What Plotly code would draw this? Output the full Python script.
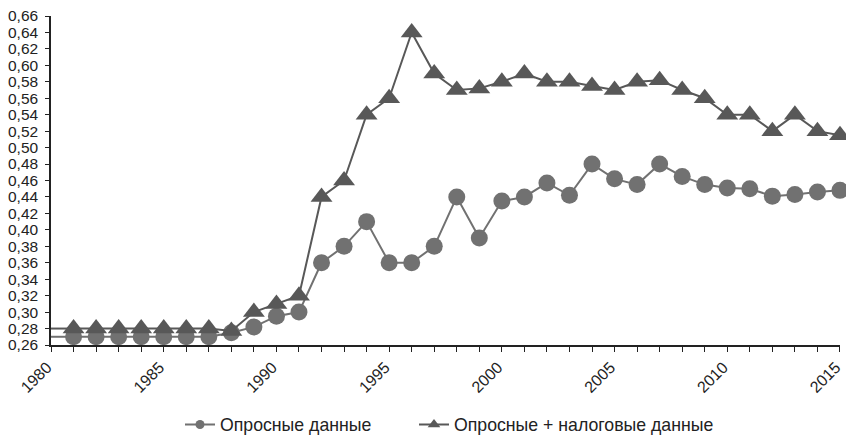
import plotly.graph_objects as go

years = list(range(1980, 2016))
survey = [0.27, 0.27, 0.27, 0.27, 0.27, 0.27, 0.27, 0.27, 0.275, 0.282, 0.295,
          0.30, 0.36, 0.38, 0.41, 0.36, 0.36, 0.38, 0.44, 0.39, 0.435,
          0.44, 0.457, 0.442, 0.48, 0.462, 0.455, 0.48, 0.465, 0.455, 0.451,
          0.45, 0.441, 0.443, 0.446, 0.448]
survey_tax = [0.28, 0.28, 0.28, 0.28, 0.28, 0.28, 0.28, 0.28, 0.277, 0.30, 0.31,
              0.32, 0.44, 0.46, 0.54, 0.56, 0.64, 0.59, 0.57, 0.572, 0.58,
              0.59, 0.58, 0.58, 0.575, 0.57, 0.58, 0.582, 0.57, 0.56, 0.54,
              0.54, 0.52, 0.54, 0.52, 0.515]
names = ["Опросные данные", "Опросные + налоговые данные"]

c_circ = "#717171"
c_tri = "#585858"

W, H = 846, 440

fig = go.Figure()
series = [(survey, c_circ, "circle", 17, 9), (survey_tax, c_tri, "triangle-up", 19, 11)]
legends = ["legend", "legend2"]
for i, (vals, col, sym, msize, lsize) in enumerate(series):
    # 1980 value: line only, no marker
    fig.add_trace(go.Scatter(
        x=years[:2], y=vals[:2], mode="lines", showlegend=False, hoverinfo="skip",
        line=dict(color=col, width=2), cliponaxis=False,
    ))
    fig.add_trace(go.Scatter(
        x=years[1:], y=vals[1:], name=names[i], mode="lines+markers", showlegend=False,
        line=dict(color=col, width=2),
        marker=dict(symbol=sym, size=msize, color=col, opacity=1),
        cliponaxis=False,
    ))
for i, (vals, col, sym, msize, lsize) in enumerate(series):
    # legend entry
    fig.add_trace(go.Scatter(
        x=[None], y=[None], name=names[i], mode="lines+markers", legend=legends[i],
        line=dict(color=col, width=2),
        marker=dict(symbol=sym, size=lsize, color=col),
    ))

leg_common = dict(orientation="h", xref="container", yref="container",
                  xanchor="left", yanchor="middle", y=1 - 425 / H,
                  font=dict(size=17.7), itemwidth=30, bgcolor="rgba(0,0,0,0)")

fig.update_layout(
    width=W, height=H,
    margin=dict(l=51, r=6, t=16, b=95),
    paper_bgcolor="white", plot_bgcolor="white",
    separators=", ",
    font=dict(family="Liberation Sans, Arial, sans-serif", size=15, color="#222"),
    showlegend=True,
    legend=dict(x=180 / W, **leg_common),
    legend2=dict(x=414 / W, **leg_common),
    xaxis=dict(range=[1979.999, 2015.001], tickmode="linear", tick0=1980, dtick=5,
               tickangle=-45, showgrid=False, zeroline=False, automargin=False,
               showline=True, linecolor="#222", linewidth=1.5,
               ticks="outside", ticklen=5, tickcolor="#222",
               tickfont=dict(size=16), ticklabeloverflow="allow", ticklabelshift=-4,
               minor=dict(dtick=1, ticks="outside", ticklen=5, tickcolor="#222", showgrid=False)),
    yaxis=dict(range=[0.26, 0.66], tickmode="linear", tick0=0.26, dtick=0.02,
               tickformat=".2f", showgrid=False, zeroline=False, automargin=False,
               showline=True, linecolor="#222", linewidth=1.5,
               ticks="outside", ticklen=4, tickcolor="#222",
               tickfont=dict(size=15.5), ticklabelstandoff=4, ticklabeloverflow="allow"),
)

fig.write_html("out.html", config={"displayModeBar": False},
               post_script="document.body.style.margin='0px';document.body.style.overflow='hidden';")
